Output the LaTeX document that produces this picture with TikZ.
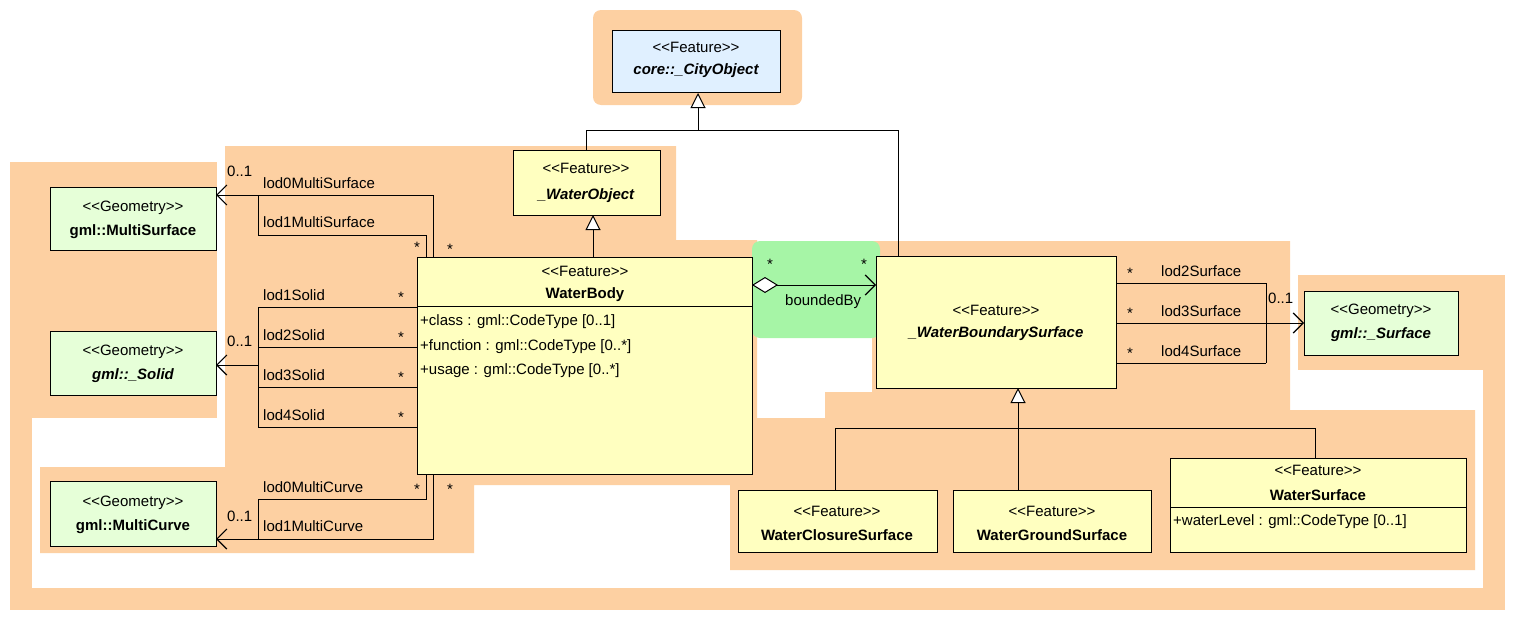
\documentclass[tikz,border=0pt]{standalone}
\usepackage{fontspec}
\setmainfont{Liberation Sans}[Ligatures=TeXOff]
\usetikzlibrary{arrows.meta,shapes.geometric}
\definecolor{org}{HTML}{FDD0A2}
\definecolor{grn}{HTML}{A6F5A6}
\definecolor{feat}{HTML}{FFFFC0}
\definecolor{geo}{HTML}{E6FFD8}
\definecolor{city}{HTML}{E0F0FF}
\newcommand{\fs}{\fontsize{15}{17}\selectfont}
\begin{document}
\begin{tikzpicture}[x=1pt,y=-1pt,
  box/.style={draw,line width=1pt,anchor=north west,inner sep=0pt},
  txt/.style={font=\fs,inner sep=0pt},
  bt/.style={font=\fs\bfseries,inner sep=0pt},
  bit/.style={font=\fs\bfseries\itshape,inner sep=0pt},
  lbl/.style={font=\fs,inner sep=0pt,anchor=west},
  ln/.style={line width=1pt},
  nav/.style={ln,-{Straight Barb[length=10pt,width=20pt,line width=1.2pt]}},
  gen/.style={ln,-{Triangle[open,length=15pt,width=15pt,fill=white]}}]
\useasboundingbox (0,0) rectangle (1515,629);
% backgrounds
\fill[org,rounded corners=8pt] (593,10) rectangle (802,105);
\fill[org] (10,418) rectangle (1505,610);
\fill[white] (32,418) rectangle (1483,588);
\fill[org] (10,162) rectangle (217,418);
\fill[org] (1298,275) rectangle (1505,370);
\fill[org] (1483,370) rectangle (1505,418);
\fill[org] (225,146) -- (676,146) -- (676,240) -- (757,240) -- (757,485) -- (474,485) -- (474,553) -- (40,553) -- (40,467) -- (225,467) -- cycle;
\fill[org] (872,241) -- (1290,241) -- (1290,410) -- (1475,410) -- (1475,570) -- (730,570) -- (730,418) -- (825,418) -- (825,392) -- (872,392) -- cycle;
\fill[grn,rounded corners=8pt] (752,241) rectangle (880,338);
% nodes
\node[box,fill=city,minimum width=168pt,minimum height=62pt] (city) at (612,30) {};
\node[txt] at (696,47) {<<Feature>>};
\node[bit] at (696,71) {core::\_CityObject};
\node[box,fill=feat,minimum width=147pt,minimum height=65pt] (wo) at (513,150) {};
\node[txt] at (586,168) {<<Feature>>};
\node[bit] at (586,196) {\_WaterObject};
\node[box,fill=feat,minimum width=335pt,minimum height=217pt] (wb) at (417,257) {};
\draw[ln] (417,306) -- (752,306);
\node[txt] at (585,271) {<<Feature>>};
\node[bt] at (585,295) {WaterBody};
\node[lbl] at (420,322) {+class : gml::CodeType [0..1]};
\node[lbl] at (420,347) {+function : gml::CodeType [0..*]};
\node[lbl] at (420,371) {+usage : gml::CodeType [0..*]};
\node[box,fill=feat,minimum width=240pt,minimum height=132pt] (wbs) at (876,256) {};
\node[txt] at (996,310) {<<Feature>>};
\node[bit] at (996,334) {\_WaterBoundarySurface};
\node[box,fill=geo,minimum width=166pt,minimum height=63pt] (ms) at (50,187) {};
\node[txt] at (133,208) {<<Geometry>>};
\node[bt] at (133,232) {gml::MultiSurface};
\node[box,fill=geo,minimum width=166pt,minimum height=64pt] (so) at (50,331) {};
\node[txt] at (133,352) {<<Geometry>>};
\node[bit] at (133,376) {gml::\_Solid};
\node[box,fill=geo,minimum width=166pt,minimum height=65pt] (mc) at (50,481) {};
\node[txt] at (133,503) {<<Geometry>>};
\node[bt] at (133,527) {gml::MultiCurve};
\node[box,fill=geo,minimum width=154pt,minimum height=64pt] (su) at (1304,291) {};
\node[txt] at (1381,311) {<<Geometry>>};
\node[bit] at (1381,335) {gml::\_Surface};
\node[box,fill=feat,minimum width=199pt,minimum height=62pt] (wcs) at (738,490) {};
\node[txt] at (837,511) {<<Feature>>};
\node[bt] at (837,535) {WaterClosureSurface};
\node[box,fill=feat,minimum width=198pt,minimum height=62pt] (wgs) at (953,490) {};
\node[txt] at (1052,511) {<<Feature>>};
\node[bt] at (1052,535) {WaterGroundSurface};
\node[box,fill=feat,minimum width=296pt,minimum height=94pt] (ws) at (1170,458) {};
\draw[ln] (1170,507) -- (1466,507);
\node[txt] at (1318,470) {<<Feature>>};
\node[bt] at (1318,495) {WaterSurface};
\node[lbl] at (1173,522) {+waterLevel : gml::CodeType [0..1]};
% generalizations
\coordinate (t1) at (698,130);
\draw[gen] (t1) -- (city.south -| t1);
\draw[ln] (586,150) |- (898,130) -- (898,256);
\draw[gen] (593,257) -- (593,215);
\draw[gen] (1018,428) -- (1018,388);
\draw[ln] (835,490) |- (1315,428) -- (1315,458);
\draw[ln] (1018,428) -- (1018,490);
% MultiSurface
\draw[nav] (433,257) |- (216,195);
\draw[ln] (426,257) |- (258,235) -- (258,195);
\node[lbl] at (227,171) {0..1};
\node[lbl] at (263,183) {lod0MultiSurface};
\node[lbl] at (263,222) {lod1MultiSurface};
\node[txt] at (417,247) {*};
\node[txt] at (450,249) {*};
% Solid
\foreach \y/\n in {307/1,347/2,387/3,427/4}{
  \draw[ln] (417,\y) -- (258,\y);
  \node[lbl] at (263,\y-12) {lod\n Solid};
  \node[txt] at (401,\y-10) {*};
}
\draw[ln] (258,307) -- (258,427);
\draw[nav] (258,365) -- (216,365);
\node[lbl] at (227,341) {0..1};
% MultiCurve
\draw[ln] (426,474) |- (258,499) -- (258,539);
\draw[nav] (433,474) |- (216,539);
\node[lbl] at (263,487) {lod0MultiCurve};
\node[lbl] at (263,526) {lod1MultiCurve};
\node[lbl] at (227,516) {0..1};
\node[txt] at (417,489) {*};
\node[txt] at (450,489) {*};
% boundedBy
\draw[ln,{Diamond[open,length=26pt,width=16pt,fill=white]}-{Straight Barb[length=10pt,width=20pt,line width=1.2pt]}] (752,285) -- (876,285);
\node[txt] at (770,264) {*};
\node[txt] at (864,264) {*};
\node[lbl] at (785,302) {boundedBy};
% Surface
\foreach \y/\n in {283/2,323/3,363/4}{
  \draw[ln] (1116,\y) -- (1266,\y);
  \node[lbl] at (1161,\y-12) {lod\n Surface};
  \node[txt] at (1130,\y-10) {*};
}
\draw[ln] (1266,283) -- (1266,363);
\draw[nav] (1266,323) -- (1304,323);
\node[lbl] at (1268,298) {0..1};
\end{tikzpicture}
\end{document}
